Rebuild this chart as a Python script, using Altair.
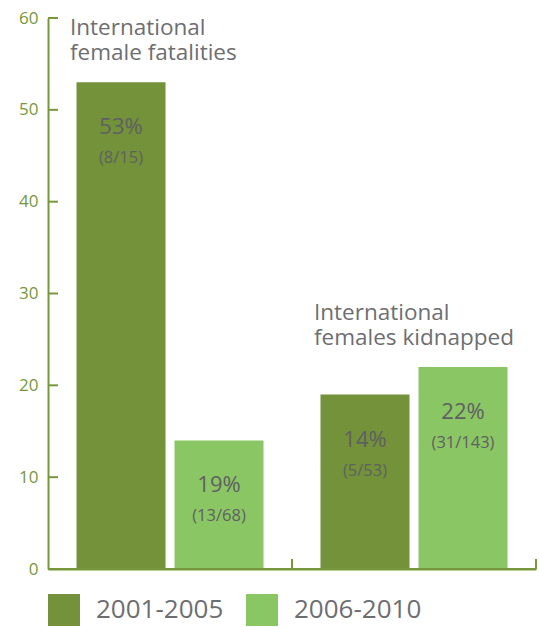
import altair as alt
import pandas as pd

groups = ["International female fatalities", "International females kidnapped"]
periods = ["2001-2005", "2006-2010"]
# bar heights as drawn
values_2001 = [53, 19]
values_2006 = [14, 22]
# labels as printed
pct_2001 = ["53%", "14%"]
pct_2006 = ["19%", "22%"]
frac_2001 = ["(8/15)", "(5/53)"]
frac_2006 = ["(13/68)", "(31/143)"]
annot_lines = [["International", "female fatalities"], ["International", "females kidnapped"]]
y_ticks = [0, 10, 20, 30, 40, 50, 60]

DARK = "#739239"
LIGHT = "#8bc665"
AXIS = "#76973b"
GREY = "#6d6e71"
LABEL = "#5f6062"
FONT = "Open Sans"

rows = []
for i, g in enumerate(groups):
    rows.append({"group": g, "period": periods[0], "value": values_2001[i], "pct": pct_2001[i], "frac": frac_2001[i]})
    rows.append({"group": g, "period": periods[1], "value": values_2006[i], "pct": pct_2006[i], "frac": frac_2006[i]})
df = pd.DataFrame(rows)

ann = pd.DataFrame({
    "group": groups,
    "text": annot_lines,
    "value": [max(values_2001[i], values_2006[i]) for i in range(len(groups))],
})
grp_df = pd.DataFrame({"group": groups})
ytick_df = pd.DataFrame({"v": y_ticks, "group": [groups[0]] * len(y_ticks)})

W, H = 488, 551

x_scale = alt.Scale(domain=groups, paddingInner=0, paddingOuter=0)
xo_enc = alt.XOffset("period:N", sort=periods,
                     scale=alt.Scale(paddingInner=0.0918, paddingOuter=0.2908))
y_scale = alt.Scale(domain=[0, 60], nice=False)

bars = alt.Chart(df).mark_bar().encode(
    x=alt.X("group:N", scale=x_scale,
            axis=alt.Axis(labels=False, ticks=False, title=None, grid=False,
                          domainColor=AXIS, domainWidth=2)),
    xOffset=xo_enc,
    y=alt.Y("value:Q", scale=y_scale,
            axis=alt.Axis(values=y_ticks, title=None, ticks=False, grid=False,
                          domainColor=AXIS, domainWidth=2, labelColor=AXIS,
                          labelFont=FONT, labelFontSize=17, labelPadding=10)),
    color=alt.Color("period:N", sort=periods,
                    scale=alt.Scale(domain=periods, range=[DARK, LIGHT]),
                    legend=alt.Legend(orient="bottom", direction="horizontal",
                                      offset=25, title=None,
                                      symbolType="square", symbolSize=1024,
                                      symbolStrokeWidth=0, symbolOpacity=1,
                                      labelFont=FONT, labelFontSize=26,
                                      labelColor=GREY, labelOffset=16,
                                      columnPadding=22, labelLimit=300)),
)

# baseline spanning each group's band
baseline = alt.Chart(grp_df).mark_rule(color=AXIS, strokeWidth=2).encode(
    x=alt.X("group:N", scale=x_scale, bandPosition=0, axis=None),
    x2=alt.X2("group:N", bandPosition=1),
    y=alt.Y(datum=0, scale=y_scale, axis=None),
)
# upward ticks at group boundaries
xticks = alt.Chart(grp_df).mark_rule(color=AXIS, strokeWidth=2).encode(
    x=alt.X("group:N", scale=x_scale, bandPosition=1, axis=None),
    y=alt.Y(datum=0, scale=y_scale, axis=None),
    y2=alt.datum(1.1),
)
# inward ticks on the value axis
yticks = alt.Chart(ytick_df).mark_rule(color=AXIS, strokeWidth=2).encode(
    x=alt.X("group:N", scale=x_scale, bandPosition=0, axis=None),
    x2=alt.X2("group:N", bandPosition=0.041),
    y=alt.Y("v:Q", scale=y_scale, axis=None),
)

pct = alt.Chart(df).mark_text(font=FONT, fontSize=22, color=LABEL, dy=45, baseline="middle").encode(
    x=alt.X("group:N", scale=x_scale, axis=None),
    xOffset=xo_enc,
    y=alt.Y("value:Q", scale=y_scale, axis=None),
    text="pct:N",
)
frac = alt.Chart(df).mark_text(font=FONT, fontSize=16.5, color=LABEL, dy=76, baseline="middle").encode(
    x=alt.X("group:N", scale=x_scale, axis=None),
    xOffset=xo_enc,
    y=alt.Y("value:Q", scale=y_scale, axis=None),
    text="frac:N",
)
annot = alt.Chart(ann).mark_text(font=FONT, fontSize=22.5, color=GREY, align="left",
                                  baseline="bottom", dx=22, dy=-42, lineHeight=25).encode(
    x=alt.X("group:N", scale=x_scale, bandPosition=0, axis=None),
    y=alt.Y("value:Q", scale=y_scale, axis=None),
    text="text",
)

chart = alt.layer(bars, baseline, xticks, yticks, pct, frac, annot).resolve_axis(
    x="independent", y="independent"
).properties(
    width=W, height=H,
    autosize=alt.AutoSizeParams(type="none"),
    padding={"left": 48, "top": 18, "right": 3, "bottom": 58},
).configure_view(strokeWidth=0)

chart.save("out.html", embed_options={"renderer": "svg", "actions": False})
